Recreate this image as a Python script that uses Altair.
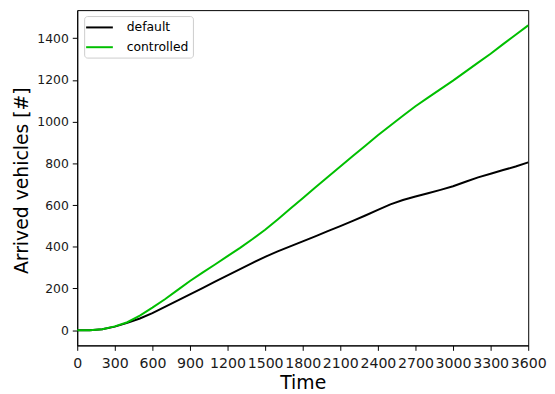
import altair as alt
import pandas as pd

time_s = [0, 100, 200, 300, 400, 500, 600, 700, 800, 900, 1000, 1100, 1200,
          1300, 1400, 1500, 1600, 1700, 1800, 1900, 2000, 2100, 2200, 2300,
          2400, 2500, 2600, 2700, 2800, 2900, 3000, 3100, 3200, 3300, 3400,
          3500, 3600]
default_vals = [0, 0, 4, 17, 35, 56, 82, 112, 142, 172, 202, 233, 263,
                293, 323, 352, 378, 402, 426, 450, 475, 499, 524, 550,
                577, 603, 624, 641, 657, 673, 690, 712, 733, 750, 768,
                785, 805]
controlled_vals = [0, 0, 4, 18, 38, 70, 108, 148, 192, 236, 276, 315, 355,
                   395, 437, 482, 531, 582, 633, 684, 735, 785, 835, 885,
                   935, 982, 1028, 1074, 1115, 1156, 1197, 1240, 1283, 1326,
                   1372, 1417, 1462]
series_names = ["default", "controlled"]
series_colors = ["#000000", "#00bf00"]
x_ticks = list(range(0, 3601, 300))
y_ticks = list(range(0, 1401, 200))

rows = []
for i, t in enumerate(time_s):
    rows.append({"Time": t, "value": default_vals[i], "series": "default", "order": 0})
for i, t in enumerate(time_s):
    rows.append({"Time": t, "value": controlled_vals[i], "series": "controlled", "order": 1})
df = pd.DataFrame(rows)

font = "DejaVu Sans"

chart = alt.Chart(df).mark_line(strokeWidth=2).encode(
    x=alt.X("Time:Q",
            scale=alt.Scale(domain=[0, 3600], nice=False, zero=False),
            axis=alt.Axis(values=x_ticks, title="Time", format="d", labelOverlap=False,
                          labelFlush=False, labelFontSize=14.3, labelPadding=6,
                          titleFontSize=19, titleFontWeight="normal",
                          titleX=228, titleY=44, titleBaseline="alphabetic",
                          titleAlign="center")),
    y=alt.Y("value:Q",
            scale=alt.Scale(domain=[-73, 1535], nice=False, zero=False),
            axis=alt.Axis(values=y_ticks, title="Arrived vehicles [#]", format="d",
                          labelFontSize=12.5, labelPadding=4,
                          titleFontSize=19, titleFontWeight="normal",
                          titleX=-50, titleY=172, titleAngle=270,
                          titleBaseline="alphabetic", titleAlign="center")),
    color=alt.Color("series:N",
                    scale=alt.Scale(domain=series_names, range=series_colors),
                    legend=alt.Legend(title=None, orient="none", legendX=7, legendY=6,
                                      symbolType="M-2.08,0H2.08", symbolSize=169,
                                      symbolStrokeWidth=2, symbolOffset=4,
                                      labelFontSize=12.5, labelOffset=20,
                                      rowPadding=6, padding=4,
                                      strokeColor="#cccccc", fillColor="white",
                                      cornerRadius=3)),
    order=alt.Order("order:Q"),
).properties(
    width=456, height=339,
    autosize=alt.AutoSizeParams(type="none"),
    padding={"left": 70, "top": 0, "right": 19, "bottom": 46},
).configure(font=font).configure_axis(
    grid=False, domainColor="black", tickColor="black", tickSize=5,
    labelColor="#1a1a1a", titleColor="black", labelFont=font, titleFont=font,
).configure_view(stroke="black", strokeWidth=1).configure_legend(
    labelFont=font, labelColor="black",
)

chart.save("out.html", embed_options={"renderer": "svg", "actions": False})
